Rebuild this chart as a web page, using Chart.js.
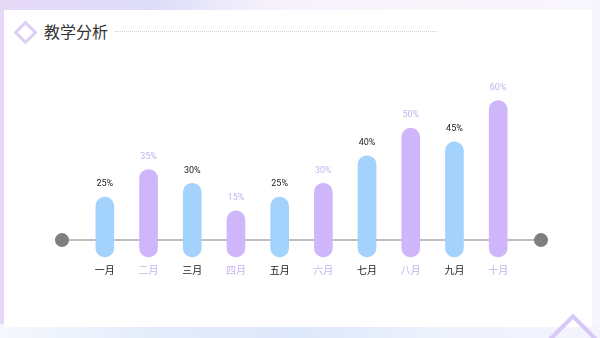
<!DOCTYPE html>
<html>
<head>
<meta charset="utf-8">
<script src="https://cdn.jsdelivr.net/npm/chart.js@4"></script>
<style>
  html, body { margin: 0; padding: 0; }
  body {
    width: 600px; height: 338px; position: relative; overflow: hidden;
    background: linear-gradient(90deg, #e6d9f7 0%, #dcdcf9 25%, #f6f2fc 45%, #faf3fb 70%, #f8f6fd 100%);
  }
  .bottom {
    position: absolute; left: 0; right: 0; bottom: 0; height: 14px;
    background: linear-gradient(90deg, #f6f8fd 0%, #e4ecfb 25%, #dde8fb 50%, #eef2fc 75%, #f4f4fd 100%);
  }
  .card {
    position: absolute; left: 4px; top: 10px; width: 588px; height: 317px;
    background: #fff;
  }
  .title {
    position: absolute; left: 44px; top: 20px;
    font: 16px "Noto Sans CJK SC", sans-serif; color: #333; line-height: 22px;
  }
  .dots {
    position: absolute; left: 115px; top: 31px; width: 322px;
    border-top: 1px dotted #d0d0d0;
  }
  .diamond {
    position: absolute; left: 17px; top: 24px; width: 11px; height: 11px;
    border: 3px solid #dcd0f6; transform: rotate(45deg);
  }
  .diamond2 {
    position: absolute; left: 555px; top: 321px; width: 28px; height: 28px;
    border: 4px solid #d6c8f8; transform: rotate(45deg);
  }
  canvas { position: absolute; left: 0; top: 0; }
</style>
</head>
<body>
<div class="bottom"></div>
<div class="card"></div>
<div class="diamond"></div>
<div class="diamond2"></div>
<div class="title">教学分析</div>
<div class="dots"></div>
<canvas id="chart" width="600" height="338"></canvas>
<script>
const months = ["一月", "二月", "三月", "四月", "五月", "六月", "七月", "八月", "九月", "十月"];
const percentLabels = ["25%", "35%", "30%", "15%", "25%", "30%", "40%", "50%", "45%", "60%"];
// bar tops as drawn in the picture
const barTops = [25, 35, 30, 20, 25, 30, 40, 50, 45, 60];
const barBase = 3.3;
const lineValue = 9.4;

const blue = "#a3d2fc";
const purple = "#cfb6fb";
const darkText = "#222222";
const lightText = "#c4b2ef";

const decor = {
  id: "decor",
  beforeDatasetsDraw(chart) {
    const ctx = chart.ctx;
    const y = chart.scales.y.getPixelForValue(lineValue);
    ctx.save();
    ctx.strokeStyle = "#aaaaaa";
    ctx.lineWidth = 1.5;
    ctx.beginPath();
    ctx.moveTo(62, y);
    ctx.lineTo(541, y);
    ctx.stroke();
    ctx.fillStyle = "#7f7f7f";
    [62, 541].forEach((x) => {
      ctx.beginPath();
      ctx.arc(x, y, 7, 0, Math.PI * 2);
      ctx.fill();
    });
    ctx.restore();
  },
  afterDatasetsDraw(chart) {
    const ctx = chart.ctx;
    const meta = chart.getDatasetMeta(0);
    const yBase = chart.scales.y.getPixelForValue(barBase);
    ctx.save();
    ctx.textAlign = "center";
    ctx.textBaseline = "middle";
    meta.data.forEach((bar, i) => {
      ctx.fillStyle = i % 2 === 0 ? darkText : lightText;
      ctx.font = "9px Roboto, sans-serif";
      ctx.fillText(percentLabels[i], bar.x, bar.y - 13);
      ctx.font = "10px 'Noto Sans CJK SC', sans-serif";
      ctx.fillText(months[i], bar.x, yBase + 13);
    });
    ctx.restore();
  },
};

new Chart(document.getElementById("chart"), {
  type: "bar",
  plugins: [decor],
  options: {
    responsive: false,
    animation: false,
    layout: { padding: { left: 83, right: 80, top: 73, bottom: 72 } },
    plugins: {
      legend: { display: false },
      tooltip: { enabled: false },
    },
    scales: {
      x: { display: false, grid: { display: false } },
      y: { display: false, min: 0, max: 70 },
    },
  },
  data: {
    labels: months,
    datasets: [
      {
        label: "教学分析",
        data: barTops.map((v) => [barBase, v]),
        backgroundColor: months.map((m, i) => (i % 2 === 0 ? blue : purple)),
        barThickness: 18,
        borderRadius: 9,
        borderSkipped: false,
      },
    ],
  },
});
</script>
</body>
</html>
